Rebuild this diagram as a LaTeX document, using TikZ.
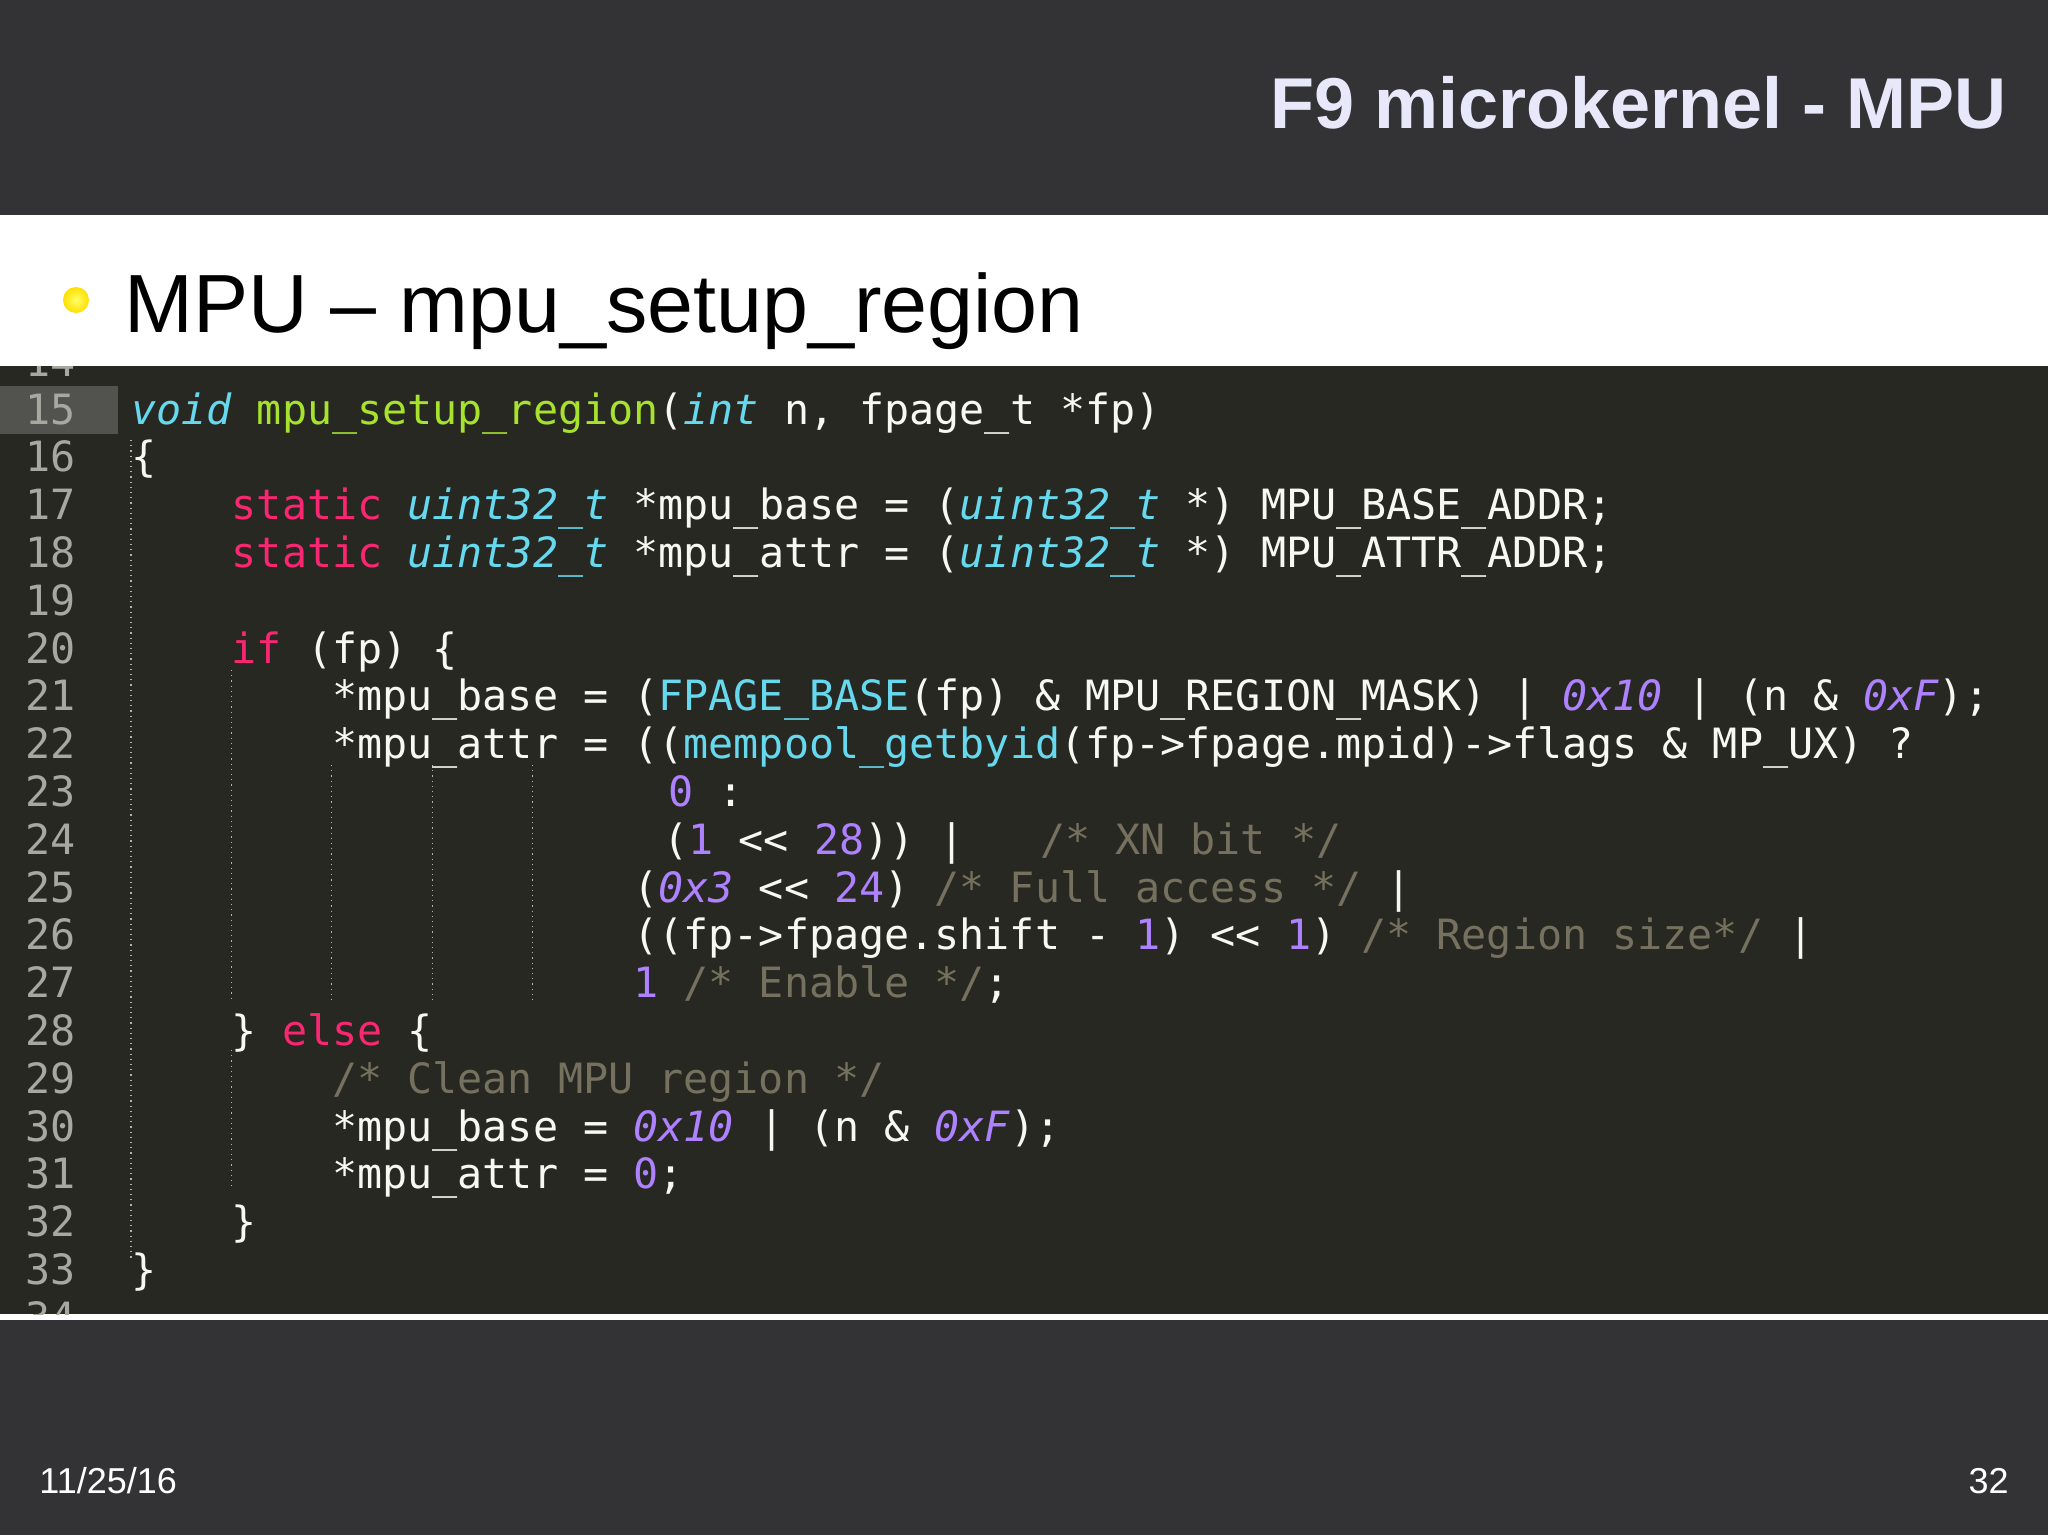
\documentclass[tikz,border=0pt]{standalone}
\usepackage{fontspec}
\setmainfont{Liberation Sans}
\setmonofont{DejaVu Sans Mono}
\definecolor{topbg}{HTML}{333335}
\definecolor{codebg}{HTML}{272822}
\definecolor{ttl}{HTML}{E8E8FA}
\definecolor{pk}{HTML}{F92672}
\definecolor{cy}{HTML}{66D9EF}
\definecolor{gr}{HTML}{A6E22E}
\definecolor{pu}{HTML}{AE81FF}
\definecolor{cmc}{HTML}{75715E}
\definecolor{txt}{HTML}{F8F8F2}
\definecolor{lnc}{HTML}{A8A8A0}
\newcommand\kw[1]{\textcolor{pk}{#1}}
\newcommand\ty[1]{\textcolor{cy}{\itshape #1}}
\newcommand\fn[1]{\textcolor{gr}{#1}}
\newcommand\nm[1]{\textcolor{pu}{#1}}
\newcommand\nmi[1]{\textcolor{pu}{\itshape #1}}
\newcommand\cmt[1]{\textcolor{cmc}{#1}}
\newcommand\cyu[1]{\textcolor{cy}{#1}}
\tikzset{
  code/.style={anchor=base west,inner sep=0pt,text=txt,font=\ttfamily\fontsize{20.85}{24}\selectfont},
  lnum/.style={anchor=base east,inner sep=0pt,text=lnc,font=\ttfamily\fontsize{20.85}{24}\selectfont},
  guide/.style={draw=gray!60,line width=0.6pt,dotted}
}
\begin{document}
\begin{tikzpicture}[x=0.5pt,y=-0.5pt]
\useasboundingbox (0,0) rectangle (2048,1535);
\fill[topbg] (0,0) rectangle (2048,1535);
\fill[white] (0,215) rectangle (2048,366);
\fill[white] (0,1314) rectangle (2048,1320);
\node[anchor=base east,inner sep=0pt,text=ttl,font=\bfseries\fontsize{36}{42}\selectfont] (title) at (2007,129) {F9 microkernel - MPU};
\shade[inner color=yellow!60!white,outer color=yellow!75!orange] (76,300) circle (13);
\node[anchor=base west,inner sep=0pt,font=\fontsize{41.3}{48}\selectfont] (sub) at (124,333) {MPU – mpu\_setup\_region};
\node[anchor=base west,inner sep=0pt,text=white,font=\fontsize{18}{22}\selectfont] (date) at (39,1493) {11/25/16};
\node[anchor=base east,inner sep=0pt,text=white,font=\fontsize{18}{22}\selectfont] (page) at (2009,1493) {32};
\fill[codebg] (0,366) rectangle (2048,1314);
\begin{scope}
\clip (0,366) rectangle (2048,1314);
\fill[codebg!80!white] (0,386) rectangle (118,434);
\foreach \n in {14,...,34}{
  \node[lnum] (ln\n) at (76,{424+(\n-15)*47.8}) {\n};
}
\end{scope}
% indent guides
\draw[guide] (131,440) -- (131,1260);
\draw[guide] (231.4,670) -- (231.4,1000);
\draw[guide] (231.4,1050) -- (231.4,1190);
\foreach \c in {8,12,16}{
  \draw[guide] ({131+\c*25.1},765) -- ({131+\c*25.1},1000);
}
\newcommand\cl[3]{\node[code] (c#1) at ({131+#2*25.1},{424+(#1-15)*47.8}) {#3};}
\cl{15}{0}{\ty{void} \fn{mpu\_setup\_region}(\ty{int} n, fpage\_t *fp)}
\cl{16}{0}{\{}
\cl{17}{4}{\kw{static} \ty{uint32\_t} *mpu\_base = (\ty{uint32\_t} *) MPU\_BASE\_ADDR;}
\cl{18}{4}{\kw{static} \ty{uint32\_t} *mpu\_attr = (\ty{uint32\_t} *) MPU\_ATTR\_ADDR;}
\cl{20}{4}{\kw{if} (fp) \{}
\cl{21}{8}{*mpu\_base = (\cyu{FPAGE\_BASE}(fp) \& MPU\_REGION\_MASK) | \nmi{0x10} | (n \& \nmi{0xF});}
\cl{22}{8}{*mpu\_attr = ((\cyu{mempool\_getbyid}(fp->fpage.mpid)->flags \& MP\_UX) ?}
\cl{23}{21.4}{\nm{0} :}
\cl{24}{21.2}{(\nm{1} <{}< \nm{28})) |~~~\cmt{/* XN bit */}}
\cl{25}{20}{(\nmi{0x3} <{}< \nm{24}) \cmt{/* Full access */} |}
\cl{26}{20}{((fp->fpage.shift - \nm{1}) <{}< \nm{1}) \cmt{/* Region size*/} |}
\cl{27}{20}{\nm{1} \cmt{/* Enable */};}
\cl{28}{4}{\} \kw{else} \{}
\cl{29}{8}{\cmt{/* Clean MPU region */}}
\cl{30}{8}{*mpu\_base = \nmi{0x10} | (n \& \nmi{0xF});}
\cl{31}{8}{*mpu\_attr = \nm{0};}
\cl{32}{4}{\}}
\cl{33}{0}{\}}
\end{tikzpicture}
\end{document}
